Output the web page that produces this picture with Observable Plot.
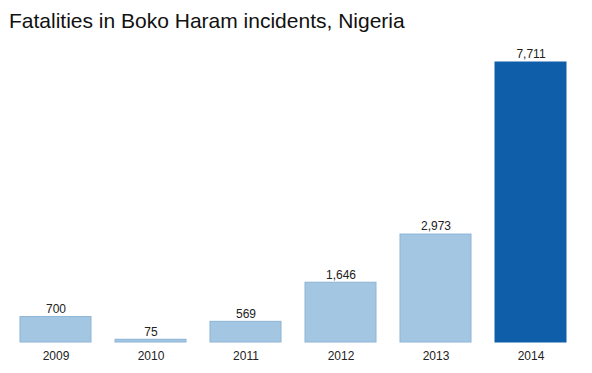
<!DOCTYPE html>
<html>
<head>
<meta charset="utf-8">
<script src="https://cdn.jsdelivr.net/npm/d3@7"></script>
<script src="https://cdn.jsdelivr.net/npm/@observablehq/plot@0.6"></script>
<style>
  body { margin: 0; background: #fff; font-family: "Helvetica Neue", Helvetica, Arial, "Liberation Sans", sans-serif; }
  #title { height: 40px; box-sizing: border-box; padding: 10px 0 0 9px; font-size: 21px; line-height: 1; color: #111; white-space: nowrap; }
</style>
</head>
<body>
<div id="title">Fatalities in Boko Haram incidents, Nigeria</div>
<div id="chart"></div>
<script>
const years = ["2009", "2010", "2011", "2012", "2013", "2014"];
const fatalities = [700, 75, 569, 1646, 2973, 7711];
const highlight = [false, false, false, false, false, true];

const data = years.map((y, i) => ({year: y, value: fatalities[i], hi: highlight[i]}));
const fmt = d3.format(",");

const chart = Plot.plot({
  width: 592,
  height: 333,
  marginTop: 22,
  marginBottom: 31,
  marginLeft: 7,
  marginRight: 12,
  style: {fontFamily: '"Helvetica Neue", Helvetica, Arial, "Liberation Sans", sans-serif', fontSize: "12px", color: "#222"},
  x: {domain: years, paddingInner: 0.25, paddingOuter: 0.125, label: null},
  y: {domain: [0, 7711], axis: null},
  marks: [
    Plot.barY(data, {
      x: "year", y: "value",
      fill: d => d.hi ? "#0f5ea9" : "#a3c7e3",
      stroke: d => d.hi ? "#0f5ea9" : "#8cb4d5",
      strokeWidth: 1
    }),
    Plot.text(data, {x: "year", y: "value", text: d => fmt(d.value), dy: -8, fill: "#222", fontSize: 12}),
    Plot.axisX({tickSize: 0, tickPadding: 9, fontSize: 12, label: null, fill: "#222"})
  ]
});
document.getElementById("chart").appendChild(chart);
</script>
</body>
</html>
